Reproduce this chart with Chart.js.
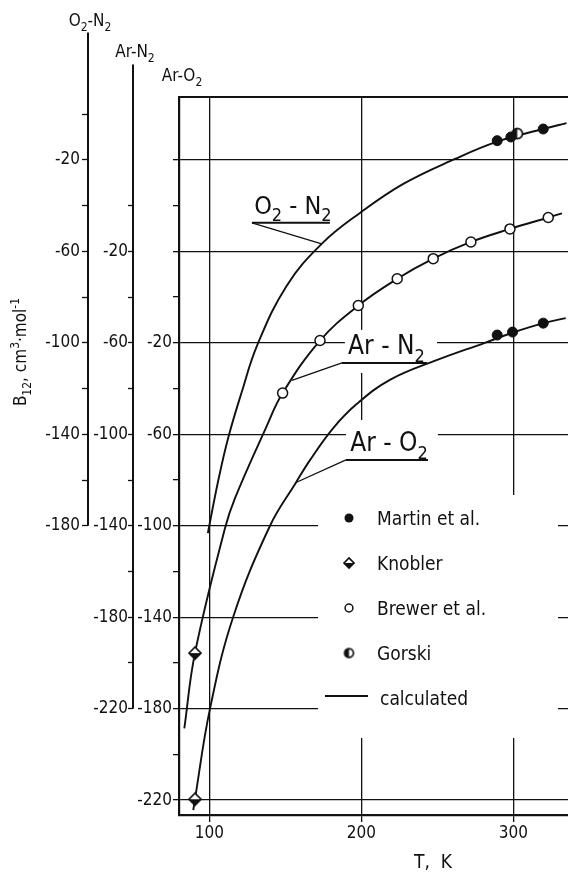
<!DOCTYPE html>
<html>
<head>
<meta charset="utf-8">
<script src="https://cdn.jsdelivr.net/npm/chart.js@4/dist/chart.umd.min.js"></script>
<style>
  html, body { margin: 0; padding: 0; background: #fff; }
  #wrap { position: relative; width: 568px; height: 873px; }
</style>
</head>
<body>
<div id="wrap"><canvas id="c" width="568" height="873"></canvas></div>
<script>
const FONT = '"DejaVu Sans Condensed", "Liberation Sans Narrow", "DejaVu Sans", sans-serif';
const INK = '#111';

// Calculated second cross virial coefficient B12 (cm3/mol) against T (K)
const o2n2CalcT = [99.0, 105.9, 112.4, 121.3, 131.5, 150.9, 173.9, 199.1, 227.6, 261.6, 289.4, 319.7, 335.0];
const o2n2CalcB = [-183.2, -160.0, -141.5, -121.5, -101.0, -75.0, -56.7, -43.2, -30.5, -19.6, -12.0, -6.5, -3.9];

const arn2CalcT = [83.5, 90.5, 110.3, 116.8, 137.0, 148.2, 172.8, 198.0, 223.6, 247.3, 272.1, 297.8, 323.0, 332.0];
const arn2CalcB = [-228.6, -195.7, -141.0, -128.0, -97.5, -82.0, -59.0, -43.7, -32.0, -23.2, -15.9, -10.2, -5.2, -3.4];

const aro2CalcT = [89.4, 90.5, 100.4, 115.7, 139.9, 157.0, 166.2, 181.5, 196.9, 218.8, 249.5, 281.3, 299.4, 319.7, 334.5];
const aro2CalcB = [-224.4, -219.6, -180.0, -139.8, -100.0, -81.1, -71.3, -57.3, -46.8, -36.2, -27.6, -20.0, -15.6, -11.4, -9.2];

// Measurements
const martinO2N2T = [289.4, 298.4, 319.7];
const martinO2N2B = [-11.6, -10.0, -6.5];
const gorskiO2N2T = [302.6];
const gorskiO2N2B = [-8.5];
const brewerArN2T = [148.2, 172.8, 198.0, 223.6, 247.3, 272.1, 297.8, 323.0];
const brewerArN2B = [-82.0, -59.0, -43.7, -32.0, -23.2, -15.9, -10.2, -5.2];
const knoblerArN2T = [90.5];
const knoblerArN2B = [-195.7];
const martinArO2T = [289.4, 299.5, 319.7];
const martinArO2B = [-16.6, -15.3, -11.4];
const knoblerArO2T = [90.5];
const knoblerArO2B = [-219.6];

// Tick values
const tempTicks = [100, 200, 300];
const aro2Ticks = [-220, -200, -180, -160, -140, -120, -100, -80, -60, -40, -20, 0, 20, 40, 60];
const aro2Labels = [-220, -180, -140, -100, -60, -20];
const aro2Grid = [-220, -180, -140, -100, -60, -20, 20, 60];
const arn2Ticks = [-220, -200, -180, -160, -140, -120, -100, -80, -60, -40, -20, 0];
const arn2Labels = [-220, -180, -140, -100, -60, -20];
const o2n2Ticks = [-180, -160, -140, -120, -100, -80, -60, -40, -20, 0];
const o2n2Labels = [-180, -140, -100, -60, -20];

const pts = (xs, ys) => xs.map((x, i) => ({ x, y: ys[i] }));

// Half-filled marker glyphs
function knoblerGlyph(size) {
  const s = size + 4, c = document.createElement('canvas');
  c.width = c.height = s;
  const g = c.getContext('2d'), m = s / 2, h = size / 2;
  g.beginPath(); g.moveTo(m - h, m); g.lineTo(m, m + h); g.lineTo(m + h, m); g.closePath();
  g.fillStyle = INK; g.fill();
  g.beginPath(); g.moveTo(m - h, m); g.lineTo(m, m - h); g.lineTo(m + h, m); g.closePath();
  g.fillStyle = '#fff'; g.fill();
  g.beginPath(); g.moveTo(m - h, m); g.lineTo(m, m - h); g.lineTo(m + h, m); g.lineTo(m, m + h); g.closePath();
  g.lineWidth = 1.7; g.strokeStyle = INK; g.stroke();
  return c;
}
function gorskiGlyph(r) {
  const s = Math.ceil(2 * r + 4), c = document.createElement('canvas');
  c.width = c.height = s;
  const g = c.getContext('2d'), m = s / 2;
  g.beginPath(); g.arc(m, m, r, 0, Math.PI * 2); g.fillStyle = '#fff'; g.fill();
  g.beginPath(); g.arc(m, m, r, Math.PI / 2, Math.PI * 1.5); g.closePath(); g.fillStyle = INK; g.fill();
  g.beginPath(); g.arc(m, m, r, 0, Math.PI * 2); g.lineWidth = 1.7; g.strokeStyle = INK; g.stroke();
  return c;
}
const knoblerImg = knoblerGlyph(12);
const knoblerSmall = knoblerGlyph(10);
const gorskiImg = gorskiGlyph(5.2);
const gorskiSmall = gorskiGlyph(4.4);

// Text with sub/superscripts; kind 0 normal, 1 subscript, 2 superscript
function richText(ctx, parts, x, y, size, align) {
  const fontOf = k => (k ? Math.round(size * 0.7) : size) + 'px ' + FONT;
  let w = 0;
  for (const [t, k] of parts) { ctx.font = fontOf(k); w += ctx.measureText(t).width; }
  let cx = align === 'center' ? x - w / 2 : (align === 'right' ? x - w : x);
  ctx.textAlign = 'left';
  ctx.textBaseline = 'alphabetic';
  for (const [t, k] of parts) {
    ctx.font = fontOf(k);
    const dy = k === 1 ? size * 0.3 : (k === 2 ? -size * 0.4 : 0);
    ctx.fillText(t, cx, y + dy);
    cx += ctx.measureText(t).width;
  }
  return w;
}

// Curve captions, anchored in each mixture's own axis units
const captions = [
  { axis: 'yO2N2', parts: [['O', 0], ['2', 1], [' - ', 0], ['N', 0], ['2', 1]], size: 25,
    t0: 128.0, t1: 179.3, b: -47.5, leadT: 173.9, leadB: -56.7, panel: null },
  { axis: 'yArN2', parts: [['Ar - N', 0], ['2', 1]], size: 26,
    t0: 187.2, t1: 243.2, b: -68.8, leadT: 154.3, leadB: -76.4, panel: 'box' },
  { axis: 'yArO2', parts: [['Ar - O', 0], ['2', 1]], size: 26,
    t0: 189.9, t1: 243.8, b: -71.2, leadT: 157.0, leadB: -81.1, panel: 'toLegend' },
];

// Legend block
const legendBox = { x: 318, y: 495, w: 240, h: 243 };
const legendRows = [
  { kind: 'filled', text: 'Martin et al.' },
  { kind: 'knobler', text: 'Knobler' },
  { kind: 'open', text: 'Brewer et al.' },
  { kind: 'gorski', text: 'Gorski' },
  { kind: 'line', text: 'calculated' },
];

const decor = {
  id: 'decor',
  beforeDatasetsDraw(chart) {
    const { ctx, chartArea: a, scales } = chart;
    const X = scales.x;
    ctx.save();
    ctx.fillStyle = '#fff';
    ctx.fillRect(legendBox.x, legendBox.y, legendBox.w, legendBox.h);
    for (const c of captions) {
      if (!c.panel) continue;
      const Y = scales[c.axis];
      const x0 = X.getPixelForValue(c.t0), x1 = X.getPixelForValue(c.t1), y = Y.getPixelForValue(c.b);
      if (c.panel === 'box') ctx.fillRect(x0 + 3, y - 33, x1 - x0 + 7, 43);
      else ctx.fillRect(x0, y - 40, x1 - x0 + 10, legendBox.y - (y - 40));
    }
    // top edge of the frame
    ctx.strokeStyle = INK; ctx.lineWidth = 2.2;
    ctx.beginPath(); ctx.moveTo(a.left - 1, a.top); ctx.lineTo(a.right, a.top); ctx.stroke();
    ctx.restore();
  },
  afterDraw(chart) {
    const { ctx, chartArea: a, scales } = chart;
    const X = scales.x;
    ctx.save();
    ctx.fillStyle = INK; ctx.strokeStyle = INK;

    // outer axis spines, each running past the frame top
    const spine = (id, from, to) => {
      const s = scales[id];
      ctx.lineWidth = 2;
      ctx.beginPath();
      ctx.moveTo(s.right, s.getPixelForValue(from));
      ctx.lineTo(s.right, s.getPixelForValue(to));
      ctx.stroke();
    };
    spine('yO2N2', 35.7, -180);
    spine('yArN2', 61.7, -220);

    // axis headers
    richText(ctx, [['O', 0], ['2', 1], ['-', 0], ['N', 0], ['2', 1]], scales.yO2N2.right + 2, 26, 17, 'center');
    richText(ctx, [['Ar-N', 0], ['2', 1]], scales.yArN2.right + 2, 57, 17, 'center');
    richText(ctx, [['Ar-O', 0], ['2', 1]], a.left + 3, 81, 17, 'center');

    // y title, reading upward
    ctx.save();
    ctx.translate(26, 352);
    ctx.rotate(-Math.PI / 2);
    richText(ctx, [['B', 0], ['12', 1], [', cm', 0], ['3', 2], ['·mol', 0], ['-1', 2]], 0, 0, 17, 'center');
    ctx.restore();

    // x title
    richText(ctx, [['T,  K', 0]], 433, 868, 19, 'center');

    // curve captions with underline and leader
    for (const c of captions) {
      const Y = scales[c.axis];
      const x0 = X.getPixelForValue(c.t0), x1 = X.getPixelForValue(c.t1), y = Y.getPixelForValue(c.b);
      const lx = X.getPixelForValue(c.leadT), ly = Y.getPixelForValue(c.leadB);
      ctx.lineWidth = 2;
      ctx.beginPath(); ctx.moveTo(x1, y); ctx.lineTo(x0, y); ctx.stroke();
      ctx.lineWidth = 1.3;
      ctx.beginPath(); ctx.moveTo(x0, y); ctx.lineTo(lx, ly); ctx.stroke();
      richText(ctx, c.parts, (x0 + x1) / 2 + 2, y - 9, c.size, 'center');
    }

    // legend
    const mx = 349, tx = 377;
    legendRows.forEach((r, i) => {
      const y = 518 + i * 45;
      if (r.kind === 'filled') { ctx.beginPath(); ctx.arc(mx, y, 4.5, 0, Math.PI * 2); ctx.fill(); }
      else if (r.kind === 'open') { ctx.lineWidth = 1.5; ctx.beginPath(); ctx.arc(mx, y, 3.9, 0, Math.PI * 2); ctx.stroke(); }
      else if (r.kind === 'knobler') ctx.drawImage(knoblerSmall, mx - knoblerSmall.width / 2, y - knoblerSmall.height / 2);
      else if (r.kind === 'gorski') ctx.drawImage(gorskiSmall, mx - gorskiSmall.width / 2, y - gorskiSmall.height / 2);
      else { ctx.lineWidth = 2.2; ctx.beginPath(); ctx.moveTo(325, y - 2); ctx.lineTo(368, y - 2); ctx.stroke(); }
      richText(ctx, [[r.text, 0]], r.kind === 'line' ? 380 : tx, y + 7, 19, 'left');
    });
    ctx.restore();
  }
};

const tickFont = { family: FONT, size: 17 };
const calcLine = (label, xs, ys, axis) => ({
  label, data: pts(xs, ys), yAxisID: axis, showLine: true,
  borderColor: INK, borderWidth: 1.9, pointRadius: 0, fill: false,
  tension: 0.4
});
const marks = (label, xs, ys, axis, style) => Object.assign({
  label, data: pts(xs, ys), yAxisID: axis, showLine: false,
  borderColor: INK, pointBorderColor: INK
}, style);

const filled = { pointStyle: 'circle', pointRadius: 5, pointBackgroundColor: INK, pointBorderWidth: 1 };
const open = { pointStyle: 'circle', pointRadius: 5, pointBackgroundColor: '#fff', pointBorderWidth: 1.5 };

new Chart(document.getElementById('c'), {
  type: 'scatter',
  data: {
    datasets: [
      marks('Martin et al. (O2-N2)', martinO2N2T, martinO2N2B, 'yO2N2', filled),
      marks('Martin et al. (Ar-O2)', martinArO2T, martinArO2B, 'yArO2', filled),
      marks('Gorski', gorskiO2N2T, gorskiO2N2B, 'yO2N2', { pointStyle: gorskiImg, pointRadius: 5 }),
      marks('Brewer et al.', brewerArN2T, brewerArN2B, 'yArN2', open),
      marks('Knobler (Ar-N2)', knoblerArN2T, knoblerArN2B, 'yArN2', { pointStyle: knoblerImg, pointRadius: 6 }),
      marks('Knobler (Ar-O2)', knoblerArO2T, knoblerArO2B, 'yArO2', { pointStyle: knoblerImg, pointRadius: 6 }),
      calcLine('O2-N2 calculated', o2n2CalcT, o2n2CalcB, 'yO2N2'),
      calcLine('Ar-N2 calculated', arn2CalcT, arn2CalcB, 'yArN2'),
      calcLine('Ar-O2 calculated', aro2CalcT, aro2CalcB, 'yArO2'),
    ]
  },
  options: {
    responsive: false,
    animation: false,
    devicePixelRatio: 1,
    layout: { autoPadding: false, padding: { top: 97, right: 0, bottom: 0, left: 0 } },
    plugins: { legend: { display: false }, tooltip: { enabled: false } },
    scales: {
      x: {
        type: 'linear', position: 'bottom', min: 80, max: 336,
        afterBuildTicks: s => { s.ticks = tempTicks.map(v => ({ value: v })); },
        afterFit: s => { s.height = 58; s.paddingLeft = 0; s.paddingRight = 0; },
        grid: { color: INK, lineWidth: 1.3, tickLength: 7, tickColor: INK, tickWidth: 1.3 },
        border: { color: INK, width: 2.2 },
        ticks: { font: tickFont, color: INK, padding: 1, autoSkip: false, maxRotation: 0, callback: v => String(v) }
      },
      yArO2: {
        type: 'linear', position: 'left', weight: 0, min: -226.5, max: 87.5,
        afterBuildTicks: s => { s.ticks = aro2Ticks.map(v => ({ value: v })); },
        afterFit: s => { s.width = 46; },
        grid: {
          color: c => (c.tick && aro2Grid.includes(c.tick.value)) ? INK : 'rgba(0,0,0,0)',
          lineWidth: 1.3, tickColor: INK, tickWidth: 1.3, tickLength: 6
        },
        border: { color: INK, width: 2.2 },
        ticks: { font: tickFont, color: INK, padding: 1, autoSkip: false,
                 callback: v => aro2Labels.includes(v) ? String(v) : '' }
      },
      yArN2: {
        type: 'linear', position: 'left', weight: 1, min: -266.5, max: 47.5,
        afterBuildTicks: s => { s.ticks = arn2Ticks.map(v => ({ value: v })); },
        afterFit: s => { s.width = 45; },
        grid: { drawOnChartArea: false, color: INK, tickColor: INK, tickWidth: 1.3, tickLength: 5 },
        border: { display: false },
        ticks: { font: tickFont, color: INK, padding: 0, autoSkip: false,
                 callback: v => arn2Labels.includes(v) ? String(v) : '' }
      },
      yO2N2: {
        type: 'linear', position: 'left', weight: 2, min: -306.5, max: 7.5,
        afterBuildTicks: s => { s.ticks = o2n2Ticks.map(v => ({ value: v })); },
        afterFit: s => { s.width = 88; },
        grid: { drawOnChartArea: false, color: INK, tickColor: INK, tickWidth: 1.3, tickLength: 6 },
        border: { display: false },
        ticks: { font: tickFont, color: INK, padding: 2, autoSkip: false,
                 callback: v => o2n2Labels.includes(v) ? String(v) : '' }
      }
    }
  },
  plugins: [decor]
});
</script>
</body>
</html>
